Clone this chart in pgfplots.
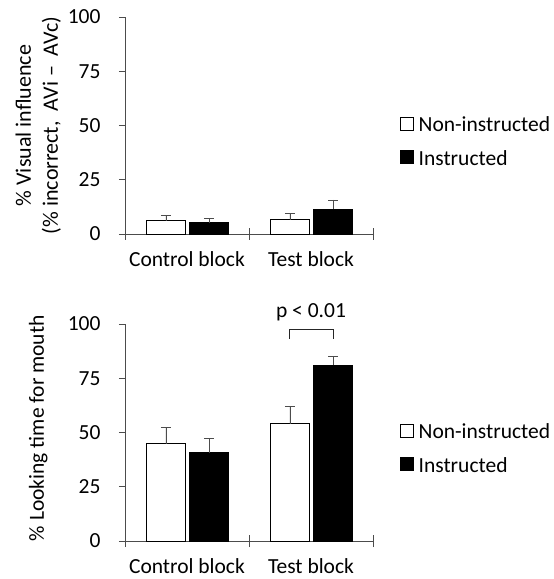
\documentclass[border=0pt]{standalone}
\usepackage{pgfplots}
\pgfplotsset{compat=1.18}
\usepackage{fontspec}
\setmainfont{Carlito}
\definecolor{axgray}{gray}{0.3}
\pgfplotsset{
  panel/.style={
    width=248pt, height=217pt, scale only axis,
    xmin=-0.5, xmax=1.5, ymin=0, ymax=100,
    axis lines=left, axis line style={-, axgray, line width=0.9pt},
    clip=false,
    font=\fontsize{21.5}{25}\selectfont,
    /pgf/number format/assume math mode=true,
    ytick={0,25,50,75,100},
    xtick={0,1}, xticklabels={Control block, Test block},
    major x tick style={draw=none},
    extra x ticks={-0.5,0.5,1.5}, extra x tick labels={},
    extra x tick style={tick align=center, major tick length=12pt,
      major x tick style={draw=axgray, line width=0.9pt}},
    major y tick style={draw=axgray, line width=0.9pt},
    tick align=outside, major tick length=6pt,
    xticklabel style={yshift=-8.5pt},
    yticklabel style={xshift=-15pt},
    legend style={at={(axis description cs:1.095,0.425)}, anchor=west,
      draw=none, fill=none, row sep=17pt,
      font=\fontsize{21.5}{25}\selectfont,
      nodes={inner xsep=2pt, inner ysep=0pt}},
    legend cell align=left,
    error bars/y dir=plus, error bars/y explicit,
    error bars/error bar style={axgray, line width=0.8pt},
    error bars/error mark options={rotate=90, mark size=5pt, axgray, line width=0.8pt},
  },
  nibar/.style={ybar, bar width=39pt, bar shift=0pt, fill=white, draw=black, line width=0.9pt,
    legend image code/.code={\draw[black, fill=white, line width=0.9pt] (0pt,-5pt) rectangle (13pt,8pt); \path (16pt,0pt);}},
  ibar/.style={ybar, bar width=39pt, bar shift=0pt, fill=black, draw=black, line width=0.9pt,
    legend image code/.code={\draw[black, fill=black, line width=0.9pt] (0pt,-5pt) rectangle (13pt,8pt); \path (16pt,0pt);}},
}
\begin{document}
\begin{tikzpicture}
\useasboundingbox (-125pt,-38pt) rectangle (429pt,541pt);
% top panel
\begin{axis}[panel, at={(0pt,307pt)},
  ylabel={\% Visual influence\\(\% incorrect,\ \ AVi\ -- \ AVc)},
  ylabel style={align=center, at={(axis description cs:-0.35,0.5)}, anchor=center,
    font=\fontsize{22}{27}\selectfont}]
\addplot[nibar] coordinates {(-0.17,6.1) +- (0,2.3) (0.83,6.6) +- (0,2.9)};
\addplot[ibar] coordinates {(0.18,5.2) +- (0,1.8) (1.18,11.5) +- (0,4.2)};
\legend{Non-instructed, Instructed}
\end{axis}
% bottom panel
\begin{axis}[panel, at={(0pt,0pt)},
  ylabel={\% Looking time for mouth},
  ylabel style={at={(axis description cs:-0.35,0.52)}, anchor=center}]
\addplot[nibar] coordinates {(-0.17,44.9) +- (0,7.4) (0.83,54.1) +- (0,7.8)};
\addplot[ibar] coordinates {(0.18,40.6) +- (0,6.7) (1.18,81.1) +- (0,3.9)};
\legend{Non-instructed, Instructed}
\draw[black!85, line width=0.9pt] (axis cs:0.83,93.3) -- (axis cs:0.83,97.4) -- (axis cs:1.185,97.4) -- (axis cs:1.185,93.3);
\node[font=\fontsize{21.5}{25}\selectfont] at (axis cs:1.0,105.5) {p < 0.01};
\end{axis}
\end{tikzpicture}
\end{document}
